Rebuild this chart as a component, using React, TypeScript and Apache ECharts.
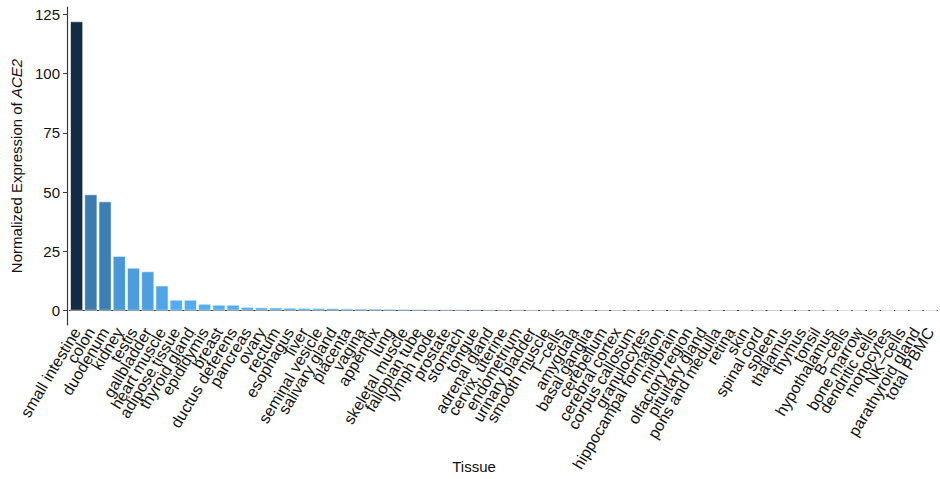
import React, { useEffect, useRef } from "react";
import * as echarts from "echarts";

const tissues: string[] = [
  "small intestine", "colon", "duodenum", "kidney", "testis", "gallbladder",
  "heart muscle", "adipose tissue", "thyroid gland", "epididymis", "breast",
  "ductus deferens", "pancreas", "ovary", "rectum", "esophagus", "liver",
  "seminal vesicle", "salivary gland", "placenta", "vagina", "appendix", "lung",
  "skeletal muscle", "fallopian tube", "lymph node", "prostate", "stomach",
  "tongue", "adrenal gland", "cervix, uterine", "endometrium", "urinary bladder",
  "smooth muscle", "T\u2212cells", "amygdala", "basal ganglia", "cerebellum",
  "cerebral cortex", "corpus callosum", "granulocytes", "hippocampal formation",
  "midbrain", "olfactory region", "pituitary gland", "pons and medulla", "retina",
  "skin", "spinal cord", "spleen", "thalamus", "thymus", "tonsil", "hypothalamus",
  "B\u2212cells", "bone marrow", "dendritic cells", "monocytes", "NK\u2212cells",
  "parathyroid gland", "total PBMC",
];

const expression: number[] = [
  122, 49, 46, 23, 18, 16.5,
  10.5, 4.5, 4.5, 2.8, 2.4,
  2.4, 1.5, 1.3, 1.25, 1.15, 1.1,
  1.05, 1.0, 0.85, 0.8, 0.75, 0.7,
  0.65, 0.6, 0.55, 0.52, 0.5,
  0.48, 0.46, 0.44, 0.42, 0.35,
  0.3, 0.28, 0.27, 0.26, 0.25,
  0.24, 0.23, 0.22, 0.22,
  0.21, 0.21, 0.2, 0.2, 0.2,
  0.19, 0.19, 0.18, 0.18, 0.18, 0.17, 0.06,
  0.04, 0.04, 0.04, 0.03, 0.03,
  0.03, 0.03,
];

const yTicks: number[] = [0, 25, 50, 75, 100, 125];

export default function App() {
  const ref = useRef<HTMLDivElement>(null);
  useEffect(() => {
    if (!ref.current) return;
    const chart = echarts.init(ref.current, undefined, { renderer: "svg" });
    const font = "'Liberation Sans', Arial, Helvetica, sans-serif";
    chart.setOption({
      animation: false,
      textStyle: { fontFamily: font },
      grid: { left: 69.5, right: 2.7, top: 7, bottom: 154, containLabel: false },
      visualMap: {
        show: false,
        type: "continuous",
        min: 0,
        max: 122,
        dimension: 1,
        inRange: { color: ["#56B1F7", "#132B43"] },
      },
      xAxis: {
        type: "category",
        data: tissues,
        boundaryGap: true,
        axisLine: { lineStyle: { color: "#3a3a3a", width: 1.2 } },
        axisTick: { alignWithLabel: true, length: 4, lineStyle: { color: "#3a3a3a" } },
        axisLabel: {
          interval: 0,
          rotate: 59,
          margin: 4,
          fontSize: 16,
          color: "#111111",
          fontFamily: font,
        },
      },
      yAxis: {
        type: "value",
        min: -6.1,
        max: 128.1,
        offset: 2.5,
        name: "Normalized Expression of {i|ACE2}",
        nameLocation: "middle",
        nameGap: 40,
        nameTextStyle: {
          fontSize: 15,
          color: "#111111",
          fontFamily: font,
          rich: { i: { fontStyle: "italic", fontSize: 15, color: "#111111", fontFamily: font } },
        },
        splitLine: { show: false },
        axisLine: { show: true, lineStyle: { color: "#3a3a3a", width: 1.2 } },
        axisTick: { show: true, length: 4, customValues: yTicks, lineStyle: { color: "#3a3a3a" } },
        axisLabel: {
          customValues: yTicks,
          margin: 7,
          fontSize: 15,
          color: "#111111",
          fontFamily: font,
        },
      },
      graphic: [
        {
          type: "text",
          x: 474,
          y: 466,
          style: {
            text: "Tissue",
            fontSize: 15,
            fill: "#111111",
            fontFamily: font,
            align: "center",
            verticalAlign: "middle",
          },
        },
      ],
      series: [
        {
          type: "bar",
          data: expression,
          barCategoryGap: "10%",
          itemStyle: { borderColor: "#ffffff", borderWidth: 0.6 },
        },
      ],
    });
    return () => chart.dispose();
  }, []);
  return <div ref={ref} style={{ width: 940, height: 479, position: "absolute", left: 0, top: 0 }} />;
}
